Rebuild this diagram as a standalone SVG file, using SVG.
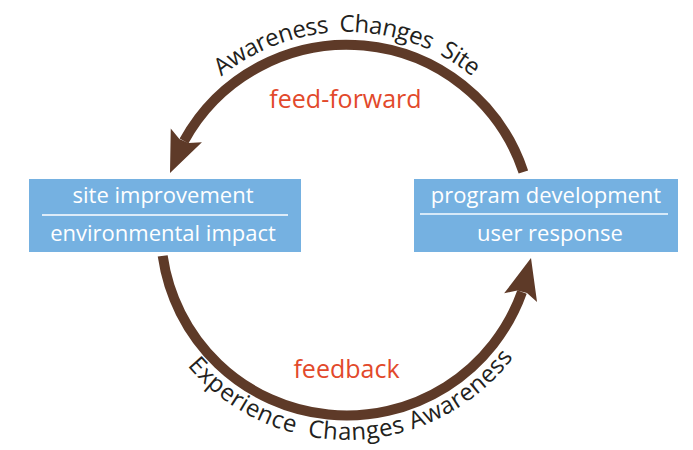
<svg xmlns="http://www.w3.org/2000/svg" xmlns:xlink="http://www.w3.org/1999/xlink" width="693" height="450" viewBox="0 0 693 450">
  <style>
    .box { fill: #75B1E1; }
    .boxtxt { font-family: "Open Sans", "Noto Sans", sans-serif; font-size: 22px; fill: #FFFFFF; text-anchor: middle; }
    .arc { fill: none; stroke: #5E3A28; stroke-width: 10; stroke-linecap: butt; }
    .head { fill: #5E3A28; }
    .label { font-family: "Open Sans", "Noto Sans", sans-serif; font-size: 25px; fill: #E2492B; text-anchor: middle; }
    .curve { font-family: "Open Sans", "Noto Sans", sans-serif; font-size: 24px; fill: #231F20; }
  </style>
  <defs>
    <path id="ah" d="M0,0 L-41,-17 L-35,-5 L-35,5 L-41,17 Z"/>
    <path id="topText" d="M160,162.9 A199 199 0 0 1 534,162.9"/>
    <path id="botText" d="M141.2,267.3 A209 209 0 0 0 552.8,267.3"/>
  </defs>
  <rect width="693" height="450" fill="#FFFFFF"/>

  <g id="connectors">
    <path class="arc" d="M523.4,172 A186 186 0 0 0 184,141"/>
    <use xlink:href="#ah" class="head" transform="translate(170,173) rotate(113.5)"/>
    <path class="arc" d="M162.7,255.9 A186 186 0 0 0 522,292"/>
    <use xlink:href="#ah" class="head" transform="translate(531,258) rotate(-75.3)"/>
  </g>

  <g id="node-site">
    <rect class="box" x="29" y="179" width="272" height="73"/>
    <text class="boxtxt" x="163" y="203">site improvement</text>
    <line x1="42" y1="215" x2="288" y2="215" stroke="#FFFFFF" stroke-width="1.5"/>
    <text class="boxtxt" x="163" y="241">environmental impact</text>
  </g>

  <g id="node-program">
    <rect class="box" x="414" y="179" width="264" height="73"/>
    <text class="boxtxt" x="546" y="203">program development</text>
    <line x1="420" y1="214" x2="668" y2="214" stroke="#D6E9F8" stroke-width="2"/>
    <text class="boxtxt" x="550" y="241">user response</text>
  </g>

  <g id="labels">
    <text class="label" x="345.5" y="108">feed-forward</text>
    <text class="label" x="346.5" y="378">feedback</text>
    <text class="curve" style="word-spacing:5px"><textPath xlink:href="#topText" startOffset="50%" text-anchor="middle" textLength="272" lengthAdjust="spacing">Awareness Changes Site</textPath></text>
    <text class="curve"><textPath xlink:href="#botText" startOffset="297" text-anchor="middle" textLength="374" lengthAdjust="spacing">Experience <tspan dx="6">Changes Awareness</tspan></textPath></text>
  </g>
</svg>
